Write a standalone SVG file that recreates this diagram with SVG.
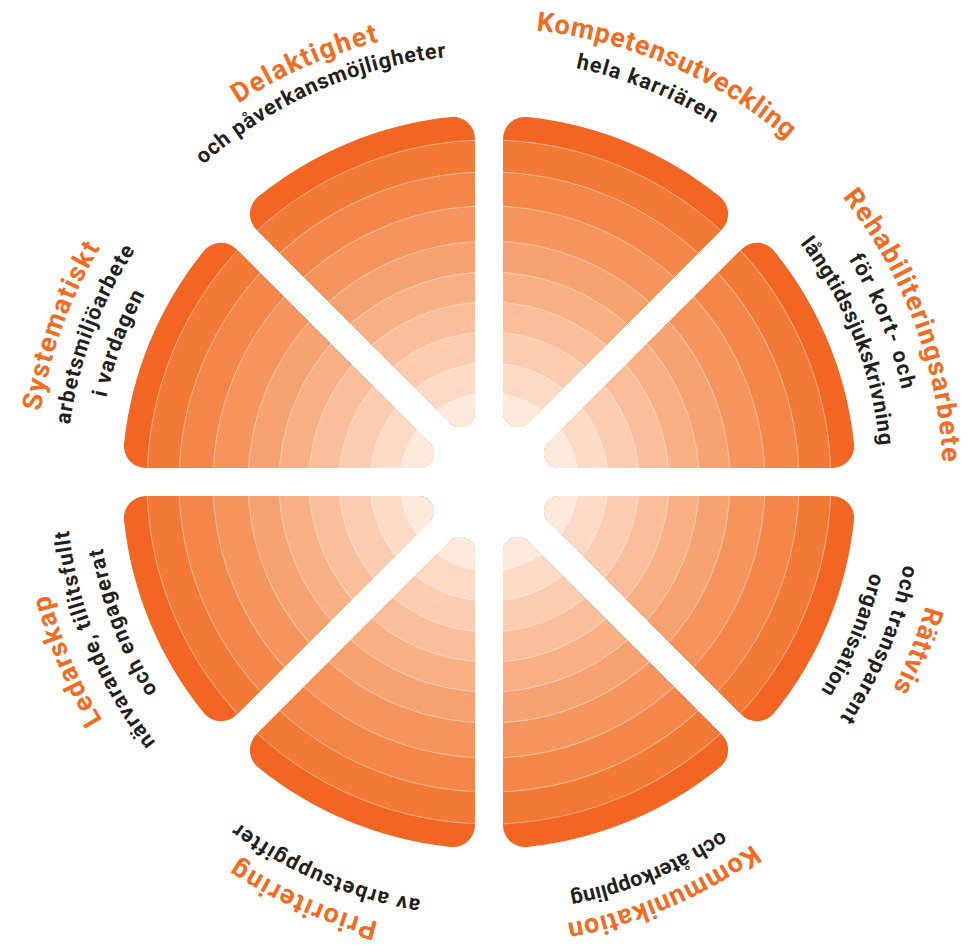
<svg xmlns="http://www.w3.org/2000/svg" xmlns:xlink="http://www.w3.org/1999/xlink" width="971" height="946" viewBox="0 0 971 946">
<style>
.t{font-family:Roboto,"Liberation Sans",sans-serif;font-weight:700;font-size:27px;fill:#F26B22;text-anchor:middle}
.s{font-family:Roboto,"Liberation Sans",sans-serif;font-weight:700;font-size:21.5px;fill:#231F20;text-anchor:middle}
.rl{stroke:#FFFFFF;stroke-opacity:0.45;stroke-width:1}
</style>
<defs>
<clipPath id="wedge"><path d="M14,-70.01 L14,-343.12 A22,22 0 0 1 38.30,-365 A367,367 0 0 1 231.02,-285.18 A22,22 0 0 1 232.72,-252.52 L39.60,-59.40 A15,15 0 0 1 14,-70.01 Z"/></clipPath>
<g id="rings" clip-path="url(#wedge)">
<circle r="370" fill="#F26522"/>
<circle class="rl" r="342" fill="#F37936"/>
<circle class="rl" r="310" fill="#F4864A"/>
<circle class="rl" r="276" fill="#F6945D"/>
<circle class="rl" r="241" fill="#F7A271"/>
<circle class="rl" r="210" fill="#F9B085"/>
<circle class="rl" r="180" fill="#FABE9A"/>
<circle class="rl" r="150" fill="#FBCCAF"/>
<circle class="rl" r="119" fill="#FDDAC5"/>
<circle class="rl" r="89" fill="#FEEADD"/>
</g>
<path id="r454" d="M-454,0 A454,454 0 0 1 454,0"/>
<path id="r448" d="M-448,0 A448,448 0 0 1 448,0"/>
<path id="r427" d="M-427,0 A427,427 0 0 1 427,0"/>
<path id="r423" d="M-423,0 A423,423 0 0 1 423,0"/>
<path id="r419" d="M-419,0 A419,419 0 0 1 419,0"/>
<path id="r392" d="M-392,0 A392,392 0 0 1 392,0"/>
</defs>

<g id="node-kompetensutveckling">
<use xlink:href="#rings" href="#rings" transform="translate(489,482)"/>
<g transform="translate(489,482)">
<text class="t" transform="rotate(23.5)"><textPath xlink:href="#r454" href="#r454" startOffset="50%" textLength="278" lengthAdjust="spacing">Kompetensutveckling</textPath></text>
<text class="s" transform="rotate(21.9)"><textPath xlink:href="#r423" href="#r423" startOffset="50%" textLength="149" lengthAdjust="spacing">hela karriären</textPath></text>
</g>
</g>

<g id="node-rehabiliteringsarbete">
<use xlink:href="#rings" href="#rings" transform="translate(489,482) rotate(45)"/>
<g transform="translate(489,482)">
<text class="t" transform="rotate(69.3)"><textPath xlink:href="#r454" href="#r454" startOffset="50%" textLength="288" lengthAdjust="spacing">Rehabiliteringsarbete</textPath></text>
<text class="s" transform="rotate(67.8)"><textPath xlink:href="#r423" href="#r423" startOffset="50%" textLength="142" lengthAdjust="spacing">för kort- och</textPath></text>
<text class="s" transform="rotate(68.6)"><textPath xlink:href="#r392" href="#r392" startOffset="50%" textLength="220" lengthAdjust="spacing">långtidssjukskrivning</textPath></text>
</g>
</g>

<g id="node-rattvis">
<use xlink:href="#rings" href="#rings" transform="translate(489,482) rotate(90)"/>
<g transform="translate(489,482)">
<text class="t" transform="rotate(111.5)"><textPath xlink:href="#r454" href="#r454" startOffset="50%" textLength="90" lengthAdjust="spacing">Rättvis</textPath></text>
<text class="s" transform="rotate(112.6)"><textPath xlink:href="#r423" href="#r423" startOffset="50%" textLength="167" lengthAdjust="spacing">och transparent</textPath></text>
<text class="s" transform="rotate(112.8)"><textPath xlink:href="#r392" href="#r392" startOffset="50%" textLength="129" lengthAdjust="spacing">organisation</textPath></text>
</g>
</g>

<g id="node-kommunikation">
<use xlink:href="#rings" href="#rings" transform="translate(489,482) rotate(135)"/>
<g transform="translate(489,482)">
<text class="t" transform="rotate(157)"><textPath xlink:href="#r448" href="#r448" startOffset="50%" textLength="203" lengthAdjust="spacing">Kommunikation</textPath></text>
<text class="s" transform="rotate(157.6)"><textPath xlink:href="#r419" href="#r419" startOffset="50%" textLength="165" lengthAdjust="spacing">och återkoppling</textPath></text>
</g>
</g>

<g id="node-prioritering">
<use xlink:href="#rings" href="#rings" transform="translate(489,482) rotate(180)"/>
<g transform="translate(489,482)">
<text class="t" transform="rotate(203.9)"><textPath xlink:href="#r454" href="#r454" startOffset="50%" textLength="155" lengthAdjust="spacing">Prioritering</textPath></text>
<text class="s" transform="rotate(202.8)"><textPath xlink:href="#r423" href="#r423" startOffset="50%" textLength="200" lengthAdjust="spacing">av arbetsuppgifter</textPath></text>
</g>
</g>

<g id="node-ledarskap">
<use xlink:href="#rings" href="#rings" transform="translate(489,482) rotate(225)"/>
<g transform="translate(489,482)">
<text class="t" transform="rotate(247)"><textPath xlink:href="#r454" href="#r454" startOffset="50%" textLength="137" lengthAdjust="spacing">Ledarskap</textPath></text>
<text class="s" transform="rotate(247.7)"><textPath xlink:href="#r423" href="#r423" startOffset="50%" textLength="232" lengthAdjust="spacing">närvarande, tillitsfullt</textPath></text>
<text class="s" transform="rotate(249)"><textPath xlink:href="#r392" href="#r392" startOffset="50%" textLength="154" lengthAdjust="spacing">och engagerat</textPath></text>
</g>
</g>

<g id="node-systematiskt">
<use xlink:href="#rings" href="#rings" transform="translate(489,482) rotate(270)"/>
<g transform="translate(489,482)">
<text class="t" transform="rotate(290)"><textPath xlink:href="#r454" href="#r454" startOffset="50%" textLength="175" lengthAdjust="spacing">Systematiskt</textPath></text>
<text class="s" transform="rotate(290.5)"><textPath xlink:href="#r423" href="#r423" startOffset="50%" textLength="188" lengthAdjust="spacing">arbetsmiljöarbete</textPath></text>
<text class="s" transform="rotate(290.5)"><textPath xlink:href="#r392" href="#r392" startOffset="50%" textLength="111" lengthAdjust="spacing">i vardagen</textPath></text>
</g>
</g>

<g id="node-delaktighet">
<use xlink:href="#rings" href="#rings" transform="translate(489,482) rotate(315)"/>
<g transform="translate(489,482)">
<text class="t" transform="rotate(-23.8)"><textPath xlink:href="#r454" href="#r454" startOffset="50%" textLength="154" lengthAdjust="spacing">Delaktighet</textPath></text>
<text class="s" transform="rotate(-23.9)"><textPath xlink:href="#r427" href="#r427" startOffset="50%" textLength="270" lengthAdjust="spacing">och påverkansmöjligheter</textPath></text>
</g>
</g>

<g id="connectors"></g>
</svg>
